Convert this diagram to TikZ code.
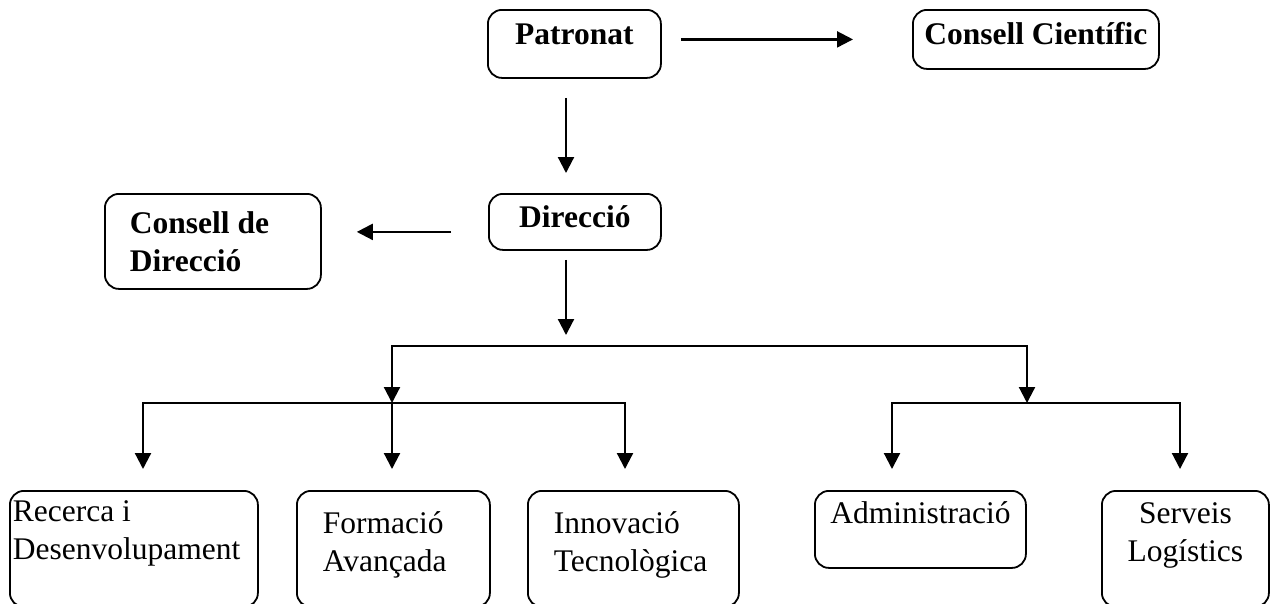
\documentclass[tikz,border=0pt]{standalone}
\usepackage{fontspec}
\setmainfont{Liberation Serif}
\usetikzlibrary{arrows.meta}
\hyphenpenalty=10000
\exhyphenpenalty=10000

\begin{document}
\begin{tikzpicture}[x=1pt,y=1pt]
\tikzstyle{every node}+=[inner ysep=0pt, inner xsep=0pt, anchor=north west]
\tikzstyle{box}=[draw=black, line width=1.8pt, rounded corners=14pt, font=\fontsize{31.5}{38}\selectfont]
\tikzstyle{head}=[box, align=flush center, font=\fontsize{31.5}{38}\selectfont\bfseries]
\tikzstyle{arr}=[black, line width=2.2pt, -{Triangle[length=16pt,width=16pt]}]
\tikzstyle{both}=[black, line width=2.2pt, {Triangle[length=16pt,width=16pt]}-{Triangle[length=16pt,width=16pt]}]
\useasboundingbox (0,0) rectangle (1273,-603);
% upper levels
\node [head, text width=173pt, text height=35pt, text depth=33pt] (patronat) at (487,-9) {Patronat};
\node [head, text width=246pt, text height=35pt, text depth=24pt] (cientific) at (912,-9) {Consell Científic};
\node [head, text width=172pt, text height=34pt, text depth=22pt] (direccio) at (488,-193) {Direcció};
\node [head, align=flush left, inner xsep=25pt, text width=166pt, text height=40pt, text depth=55pt] (consell) at (104,-193) {Consell de\\Direcció};
% departments
\node [box, align=flush left, inner xsep=3pt, text width=242pt, text height=31pt, text depth=85pt] (recerca) at (9,-490) {Recerca i\\Desenvolupament};
\node [box, align=flush left, inner xsep=26pt, text width=141pt, text height=43pt, text depth=73pt] (formacio) at (296,-490) {Formació\\Avançada};
\node [box, align=flush left, inner xsep=26pt, text width=159pt, text height=43pt, text depth=73pt] (innovacio) at (527,-490) {Innovació\\Tecnològica};
\node [box, align=flush center, text width=211pt, text height=33pt, text depth=44pt] (admin) at (814,-490) {Administració};
\node [box, align=flush center, text width=167pt, text height=33pt, text depth=83pt] (serveis) at (1101,-490) {Serveis\\Logístics};
% branch points
\coordinate (hub) at (566,-346);
\coordinate (lefthub) at (392,-403);
\coordinate (righthub) at (1027,-403);
\coordinate (recdrop) at (143,-403);
\coordinate (inndrop) at (625,-403);
\coordinate (admdrop) at (892,-403);
\coordinate (serdrop) at (1180,-403);
% arrows
\draw [arr, shorten <=19pt, shorten >=59pt] (patronat.east |- cientific.west) -- (cientific.west);
\draw [arr, shorten <=19pt, shorten >=20pt] (patronat.south -| hub) -- (direccio.north -| hub);
\draw [arr, shorten <=37pt, shorten >=35pt] ([yshift=-10pt]direccio.west) -- ([yshift=-10pt]direccio.west -| consell.east);
\draw [arr, shorten <=9pt, shorten >=11pt] (direccio.south -| hub) -- (hub);
\draw [both] (lefthub) -- (hub -| lefthub) -- (hub -| righthub) -- (righthub);
\draw [both, shorten <=21pt, shorten >=21pt] (recdrop |- recerca.north) -- (recdrop) -- (inndrop) -- (inndrop |- innovacio.north);
\draw [arr, shorten >=21pt] (lefthub) -- (lefthub |- formacio.north);
\draw [both, shorten <=21pt, shorten >=21pt] (admdrop |- admin.north) -- (admdrop) -- (serdrop) -- (serdrop |- serveis.north);
\end{tikzpicture}
\end{document}
